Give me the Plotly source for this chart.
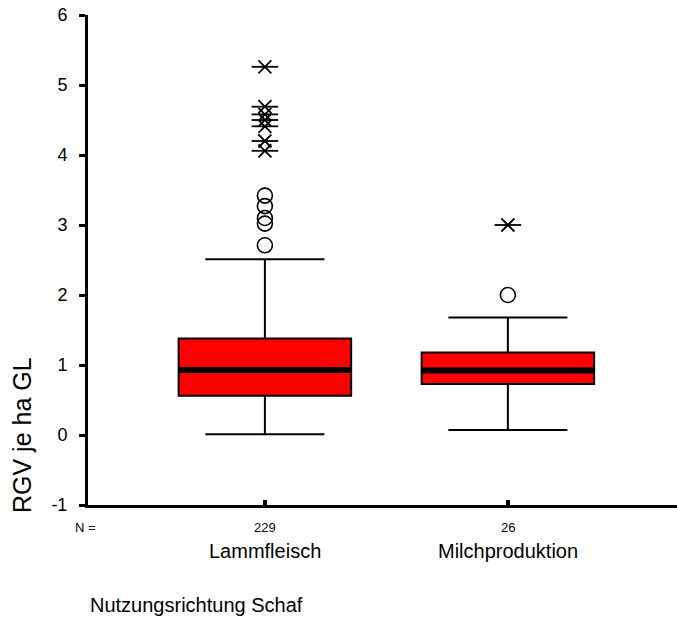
import plotly.graph_objects as go

# ---- data ----
categories = ["Lammfleisch", "Milchproduktion"]
positions = [1, 2]
n_values = [229, 26]
q1 = [0.56, 0.73]
median = [0.93, 0.92]
q3 = [1.38, 1.18]
lower_whisker = [0.01, 0.07]
upper_whisker = [2.51, 1.68]
# outliers (circles) and extreme values (stars)
outlier_cat = [1, 1, 1, 1, 1, 2]
outlier_val = [3.42, 3.27, 3.10, 3.02, 2.71, 2.0]
extreme_cat = [1, 1, 1, 1, 1, 1, 1, 2]
extreme_val = [5.26, 4.69, 4.58, 4.50, 4.41, 4.20, 4.06, 3.0]
y_ticks = [-1, 0, 1, 2, 3, 4, 5, 6]
y_tick_labels = ["-1", "0", "1", "2", "3", "4", "5", "6"]

box_width = 0.71
FONT = "Liberation Sans, Arial, sans-serif"

fig = go.Figure()
for i, cat in enumerate(categories):
    fig.add_trace(go.Box(
        x=[positions[i]], q1=[q1[i]], median=[median[i]], q3=[q3[i]],
        lowerfence=[lower_whisker[i]], upperfence=[upper_whisker[i]],
        width=box_width, whiskerwidth=0.69,
        fillcolor="#ff0000", line=dict(color="black", width=2),
        boxpoints=False, showlegend=False, hoverinfo="skip",
    ))
    # thick median line
    fig.add_trace(go.Scatter(
        x=[positions[i] - box_width / 2, positions[i] + box_width / 2],
        y=[median[i], median[i]], mode="lines",
        line=dict(color="black", width=6), showlegend=False, hoverinfo="skip",
    ))

fig.add_trace(go.Scatter(
    x=outlier_cat, y=outlier_val, mode="markers",
    marker=dict(symbol="circle-open", size=15, color="black", line=dict(width=1.6, color="black")),
    showlegend=False, hoverinfo="skip",
))
fig.add_trace(go.Scatter(
    x=extreme_cat, y=extreme_val, mode="markers",
    marker=dict(symbol="line-ew-open", size=19, color="black", line=dict(width=1.8, color="black")),
    showlegend=False, hoverinfo="skip",
))
fig.add_trace(go.Scatter(
    x=extreme_cat, y=extreme_val, mode="markers",
    marker=dict(symbol="x-thin-open", size=13, color="black", line=dict(width=1.8, color="black")),
    showlegend=False, hoverinfo="skip",
))

annotations = []
annotations.append(dict(text="N =", xref="paper", yref="paper", x=0, y=0,
                        xanchor="center", yanchor="middle", xshift=-3, yshift=-22,
                        showarrow=False, font=dict(family=FONT, size=13, color="black")))
for i, cat in enumerate(categories):
    annotations.append(dict(text=str(n_values[i]), xref="x", yref="paper", x=positions[i], y=0,
                            xanchor="center", yanchor="middle", yshift=-22,
                            showarrow=False, font=dict(family=FONT, size=13, color="black")))
    annotations.append(dict(text=cat, xref="x", yref="paper", x=positions[i], y=0,
                            xanchor="center", yanchor="middle", yshift=-46,
                            showarrow=False, font=dict(family=FONT, size=20, color="black")))
annotations.append(dict(text="Nutzungsrichtung Schaf", xref="paper", yref="paper", x=0, y=0,
                        xanchor="left", yanchor="middle", yshift=-100,
                        showarrow=False, font=dict(family=FONT, size=20, color="black")))
annotations.append(dict(text="RGV je ha GL", xref="paper", yref="y", x=0, y=0,
                        xanchor="center", yanchor="middle", xshift=-66, textangle=-90,
                        showarrow=False, font=dict(family=FONT, size=25, color="black")))

fig.update_layout(
    width=677, height=621,
    margin=dict(l=88, r=0, t=15, b=116),
    paper_bgcolor="white", plot_bgcolor="white",
    font=dict(family=FONT, color="black"),
    annotations=annotations,
    xaxis=dict(range=[0.272, 2.696], tickvals=positions, ticktext=["", ""],
               showline=True, linecolor="black", linewidth=3,
               ticks="inside", ticklen=5, tickwidth=4, tickcolor="black",
               showgrid=False, zeroline=False, showticklabels=False),
    yaxis=dict(range=[-1, 6], tickvals=y_ticks, ticktext=y_tick_labels,
               showline=True, linecolor="black", linewidth=3,
               ticks="outside", ticklen=6, tickwidth=3, tickcolor="black",
               ticklabelstandoff=8,
               showgrid=False, zeroline=False,
               tickfont=dict(family=FONT, size=18, color="black")),
)

fig.write_html("out.html")
